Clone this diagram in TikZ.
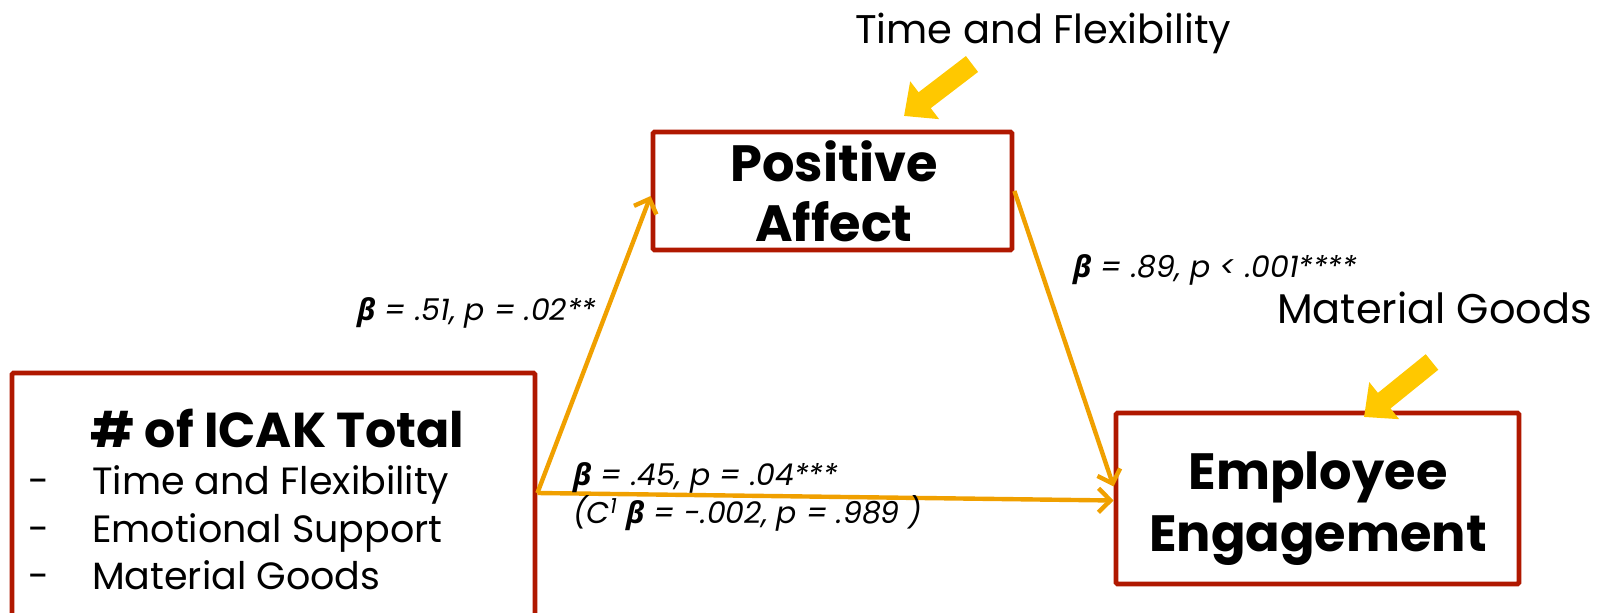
\documentclass[tikz,border=0pt]{standalone}
\usepackage{fontspec}
\setmainfont{Poppins}
\newfontfamily\grk{Open Sans}
\usetikzlibrary{arrows.meta}
\definecolor{boxred}{RGB}{176,24,0}
\definecolor{arrorange}{RGB}{240,160,0}
\definecolor{arryellow}{RGB}{255,200,0}
\newcommand{\bb}{{\grk\bfseries\itshape β}}
\begin{document}
\begin{tikzpicture}[x=1pt,y=-1pt,
  box/.style={draw=boxred, line width=4.8pt, fill=white, inner sep=0pt, rounded corners=1.5pt},
  conn/.style={draw=arrorange, line width=4.4pt, -{Straight Barb[length=12pt,width=24pt]}},
  lbl/.style={anchor=base west, inner sep=0pt, font=\fontsize{30}{36}\selectfont\itshape},
  boxtxt/.style={anchor=base, inner sep=0pt, font=\fontsize{51}{60}\selectfont\bfseries},
  plain/.style={anchor=base west, inner sep=0pt, font=\fontsize{38}{46}\selectfont},
  blockarrow/.style={draw=arryellow, fill=arryellow, line width=20pt, -{Triangle[length=26pt,width=46pt]}}]
\useasboundingbox (0,0) rectangle (1615,613);
% boxes
\node[box, minimum width=523pt, minimum height=268pt] (icak) at (273.5,507) {};
\node[box, minimum width=359pt, minimum height=118pt] (pa) at (832.5,191) {};
\node[box, minimum width=403pt, minimum height=171pt] (ee) at (1317.5,498.5) {};
% box texts
\node[boxtxt] (pa1) at (834,181) {Positive};
\node[boxtxt] (pa2) at (834,241) {Affect};
\node[boxtxt] (ee1) at (1318,489) {Employee};
\node[boxtxt] (ee2) at (1318,551) {Engagement};
\node[anchor=base west, inner sep=0pt, font=\fontsize{49}{56}\selectfont\bfseries] (ic) at (90,447) {\# of ICAK Total};
\node[plain] (d1) at (28,494) {-};
\node[plain] (d2) at (28,542) {-};
\node[plain] (d3) at (28,589) {-};
\node[plain] (i1) at (92,494) {Time and Flexibility};
\node[plain] (i2) at (92,542) {Emotional Support};
\node[plain] (i3) at (92,589) {Material Goods};
% connectors
\draw[conn] ([yshift=14pt]icak.east) -- ([yshift=-5pt]pa.west);
\draw[conn] ([yshift=14pt]icak.east) -- ([yshift=-2pt]ee.west);
\draw[conn] ([yshift=0pt]pa.east) -- ([yshift=12pt]ee.west);
% labels
\node[lbl] (l1) at (357,320) {\bb{} = .51, p = .02**};
\node[lbl] (l2) at (573,485) {\bb{} = .45, p = .04***};
\node[lbl] (l3) at (573,523) {(C\textsuperscript{1} \bb{} = -.002, p = .989 )};
\node[lbl] (l4) at (1073,277) {\bb{} = .89, p < .001****};
% moderators
\node[plain, font=\fontsize{40}{48}\selectfont] (tf) at (855,43) {Time and Flexibility};
\node[plain, font=\fontsize{41.5}{48}\selectfont] (mg) at (1277,323) {Material Goods};
\coordinate (tfs) at (972,64);
\coordinate (tfe) at (904,116);
\coordinate (mgs) at (1432,362);
\coordinate (mge) at (1364,417);
\draw[blockarrow] (tfs) -- (tfe);
\draw[blockarrow] (mgs) -- (mge);
\end{tikzpicture}
\end{document}
